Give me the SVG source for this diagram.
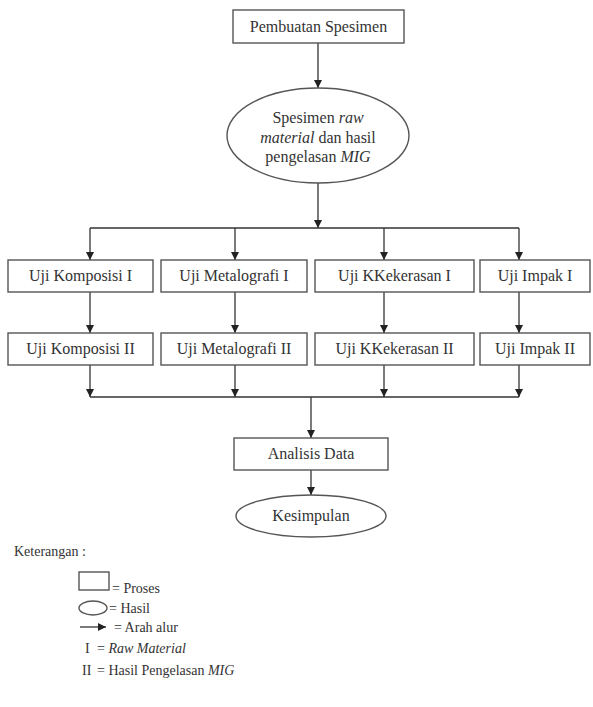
<svg xmlns="http://www.w3.org/2000/svg" width="593" height="707" viewBox="0 0 593 707">
<style>
  .box { fill: #ffffff; stroke: #555; stroke-width: 1.4; }
  .ell { fill: #ffffff; stroke: #555; stroke-width: 1.4; }
  .ln { fill: none; stroke: #333; stroke-width: 1.3; }
  .t { font-family: "Liberation Serif", "Times New Roman", serif; font-size: 16px; fill: #333; text-anchor: middle; }
  .lg { font-family: "Liberation Serif", "Times New Roman", serif; font-size: 14px; fill: #333; }
</style>
<defs>
  <marker id="ah" markerUnits="userSpaceOnUse" markerWidth="8" markerHeight="8" refX="8" refY="4" orient="auto">
    <path d="M0,0 L8,4 L0,8 z" fill="#222"/>
  </marker>
</defs>
<rect x="0" y="0" width="593" height="707" fill="#ffffff"/>

<g id="connectors">
  <path class="ln" d="M318,43 V88" marker-end="url(#ah)"/>
  <path class="ln" d="M318,183 V228" marker-end="url(#ah)"/>
  <path class="ln" d="M90,228 H519"/>
  <path class="ln" d="M90,228 V260" marker-end="url(#ah)"/>
  <path class="ln" d="M235,228 V260" marker-end="url(#ah)"/>
  <path class="ln" d="M384,228 V260" marker-end="url(#ah)"/>
  <path class="ln" d="M519,228 V260" marker-end="url(#ah)"/>
  <path class="ln" d="M90,292 V333" marker-end="url(#ah)"/>
  <path class="ln" d="M235,292 V333" marker-end="url(#ah)"/>
  <path class="ln" d="M384,292 V333" marker-end="url(#ah)"/>
  <path class="ln" d="M519,292 V333" marker-end="url(#ah)"/>
  <path class="ln" d="M90,365 V397" marker-end="url(#ah)"/>
  <path class="ln" d="M235,365 V397" marker-end="url(#ah)"/>
  <path class="ln" d="M384,365 V397" marker-end="url(#ah)"/>
  <path class="ln" d="M519,365 V397" marker-end="url(#ah)"/>
  <path class="ln" d="M90,397 H519"/>
  <path class="ln" d="M311,397 V438" marker-end="url(#ah)"/>
  <path class="ln" d="M311,470 V495" marker-end="url(#ah)"/>
</g>

<g id="pembuatan">
  <rect class="box" x="233" y="10" width="171" height="33"/>
  <text class="t" x="318.5" y="32">Pembuatan Spesimen</text>
</g>
<g id="spesimen">
  <ellipse class="ell" cx="318" cy="135.5" rx="91" ry="47.5"/>
  <text class="t" x="318" y="123">Spesimen <tspan font-style="italic">raw</tspan></text>
  <text class="t" x="318" y="143"><tspan font-style="italic">material</tspan> dan hasil</text>
  <text class="t" x="318" y="162">pengelasan  <tspan font-style="italic">MIG</tspan></text>
</g>

<g id="komposisi1"><rect class="box" x="8" y="260" width="145" height="32"/><text class="t" x="80.5" y="281">Uji Komposisi I</text></g>
<g id="metalografi1"><rect class="box" x="161" y="260" width="146" height="32"/><text class="t" x="234" y="281">Uji Metalografi I</text></g>
<g id="kekerasan1"><rect class="box" x="315" y="260" width="159" height="32"/><text class="t" x="394.5" y="281">Uji KKekerasan I</text></g>
<g id="impak1"><rect class="box" x="480" y="260" width="110" height="32"/><text class="t" x="535" y="281">Uji Impak I</text></g>

<g id="komposisi2"><rect class="box" x="8" y="333" width="145" height="32"/><text class="t" x="80.5" y="354">Uji Komposisi II</text></g>
<g id="metalografi2"><rect class="box" x="161" y="333" width="146" height="32"/><text class="t" x="234" y="354">Uji Metalografi II</text></g>
<g id="kekerasan2"><rect class="box" x="315" y="333" width="159" height="32"/><text class="t" x="394.5" y="354">Uji KKekerasan II</text></g>
<g id="impak2"><rect class="box" x="480" y="333" width="110" height="32"/><text class="t" x="535" y="354">Uji Impak II</text></g>

<g id="analisis"><rect class="box" x="234" y="438" width="154" height="32"/><text class="t" x="311" y="459">Analisis Data</text></g>
<g id="kesimpulan"><ellipse class="ell" cx="311" cy="516" rx="75" ry="21"/><text class="t" x="311" y="521">Kesimpulan</text></g>

<g id="legend">
  <text class="lg" x="14" y="556">Keterangan :</text>
  <rect class="box" x="79" y="572" width="30" height="18"/>
  <text class="lg" x="112" y="593">= Proses</text>
  <ellipse class="ell" cx="93" cy="608" rx="14" ry="7"/>
  <text class="lg" x="109" y="613">= Hasil</text>
  <path class="ln" d="M80,627 H106" marker-end="url(#ah)"/>
  <text class="lg" x="114" y="632">= Arah alur</text>
  <text class="lg" x="85" y="653">I</text>
  <text class="lg" x="97" y="653">= <tspan font-style="italic">Raw Material</tspan></text>
  <text class="lg" x="82" y="675">II</text>
  <text class="lg" x="97" y="675">= Hasil Pengelasan <tspan font-style="italic">MIG</tspan></text>
</g>
</svg>
